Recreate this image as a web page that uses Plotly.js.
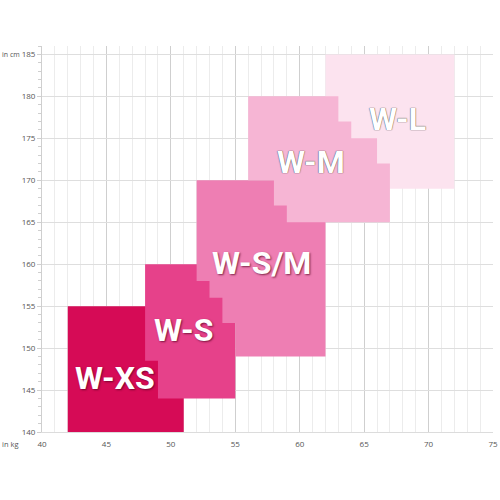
<!DOCTYPE html>
<html>
<head>
<meta charset="utf-8">
<script src="https://cdn.plot.ly/plotly-3.0.1.min.js"></script>
<style>html,body{margin:0;padding:0;background:#fff}#chart{width:500px;height:500px}</style>
</head>
<body>
<div id="chart"></div>
<script>
// Size regions: weight (kg) vs height (cm) outlines
const sizes = ['W-XS', 'W-S', 'W-S/M', 'W-L', 'W-M'];
const xsWeight = [42, 51, 51, 42, 42];
const xsHeight = [155, 155, 140, 140, 155];
const sWeight = [48, 55, 55, 49, 49, 48, 48];
const sHeight = [160, 160, 144, 144, 148.5, 148.5, 160];
const smWeight = [52, 62, 62, 55, 55, 54, 54, 53, 53, 52, 52];
const smHeight = [170, 170, 149, 149, 153, 153, 156, 156, 158, 158, 170];
const lWeight = [62, 72, 72, 62, 62];
const lHeight = [185, 185, 169, 169, 185];
const mWeight = [56, 63, 63, 64, 64, 66, 66, 67, 67, 59, 59, 58, 58, 56, 56];
const mHeight = [180, 180, 177, 177, 175, 175, 172, 172, 165, 165, 167, 167, 170, 170, 180];
const labelWeight = [45.7, 51.0, 57.0, 67.6, 60.9];
const labelHeight = [146.4, 152.1, 160.2, 177.3, 172.2];
const xTicks = [40, 45, 50, 55, 60, 65, 70, 75];
const yTicks = [140, 145, 150, 155, 160, 165, 170, 175, 180, 185];

const colors = ['#d60b56', '#e6418a', '#ee7eb3', '#fce3ef', '#f6b5d4'];
const outlines = [[xsWeight, xsHeight], [sWeight, sHeight], [smWeight, smHeight], [lWeight, lHeight], [mWeight, mHeight]];

const traces = outlines.map((o, i) => ({
  type: 'scatter', mode: 'lines', x: o[0], y: o[1], fill: 'toself',
  fillcolor: colors[i], line: {width: 0, color: colors[i]}, hoverinfo: 'skip', showlegend: false, name: sizes[i]
}));

const darkShadow = '1px 1px 2px rgba(80,0,30,0.7)';
const lightShadow = '0px 0px 1px #555, 0px 0px 1px #555';
const annotations = sizes.map((s, i) => ({
  x: labelWeight[i], y: labelHeight[i], xref: 'x', yref: 'y', text: s, showarrow: false,
  font: {family: 'Roboto, sans-serif', size: 32, color: '#fff', weight: 700, shadow: i < 3 ? darkShadow : lightShadow}
}));
annotations.push({xref: 'paper', yref: 'paper', x: -0.094, y: 0.979, xanchor: 'left', yanchor: 'middle', text: 'in cm', showarrow: false, font: {family: 'Open Sans, sans-serif', size: 7, color: '#555'}});
annotations.push({xref: 'paper', yref: 'paper', x: -0.094, y: -0.032, xanchor: 'left', yanchor: 'middle', text: 'in kg', showarrow: false, font: {family: 'Open Sans, sans-serif', size: 7.5, color: '#555'}});

const layout = {
  width: 500, height: 500,
  margin: {l: 41.5, r: 6.5, t: 46, b: 68.3},
  paper_bgcolor: '#fff', plot_bgcolor: '#fff',
  showlegend: false,
  xaxis: {
    range: [40, 75], tickvals: xTicks, ticktext: xTicks.map(String),
    showgrid: true, gridcolor: '#cfcfcf', gridwidth: 1,
    minor: {dtick: 1, showgrid: true, gridcolor: '#ececec', gridwidth: 1},
    zeroline: false, showline: true, linecolor: '#dcdcdc', ticks: '',
    tickfont: {family: 'Open Sans, sans-serif', size: 8, color: '#555'}, ticklabelstandoff: 4
  },
  yaxis: {
    range: [140, 186], tickvals: yTicks, ticktext: yTicks.map(String),
    showgrid: true, gridcolor: '#dedede', gridwidth: 1,
    minor: {dtick: 1, ticks: 'outside', ticklen: 3, tickcolor: '#cfcfcf', showgrid: false},
    zeroline: false, showline: true, linecolor: '#cfcfcf', ticks: 'outside', ticklen: 4, tickcolor: '#cfcfcf',
    tickfont: {family: 'Open Sans, sans-serif', size: 8, color: '#555'}
  },
  annotations: annotations
};

Plotly.newPlot('chart', traces, layout, {displayModeBar: false, staticPlot: true});
</script>
</body>
</html>
